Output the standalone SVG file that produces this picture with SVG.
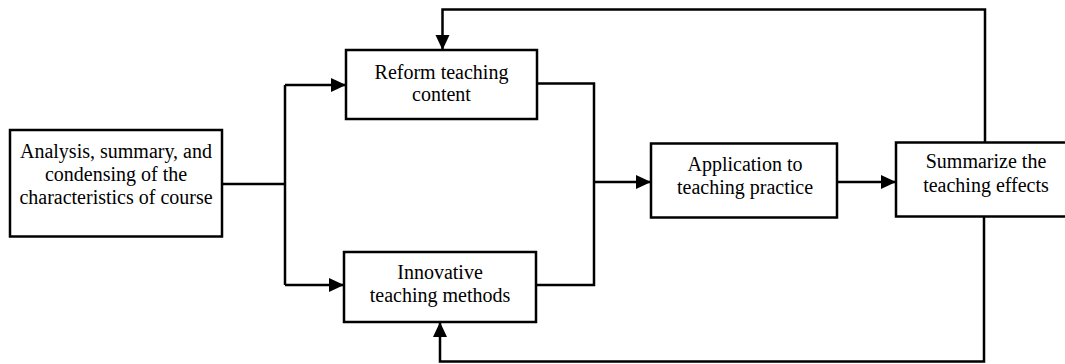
<svg xmlns="http://www.w3.org/2000/svg" width="1065" height="364" viewBox="0 0 1065 364">
<style>
.box{fill:#fff;stroke:#000;stroke-width:2.5}
.lbl{font-family:"Liberation Serif","Times New Roman",serif;font-size:20px;fill:#000;text-anchor:middle}
.c{fill:none;stroke:#000;stroke-width:2.5}
</style>
<defs>
<marker id="arr" markerUnits="userSpaceOnUse" markerWidth="15" markerHeight="14" refX="15" refY="7" orient="auto" overflow="visible">
<path d="M0,0 L15,7 L0,14 Z" fill="#000"/>
</marker>
</defs>
<rect width="1065" height="364" fill="#fff"/>
<g id="connectors">
<path class="c" d="M222,184 H285"/>
<path class="c" d="M285,85 V285"/>
<path class="c" d="M285,85 H346" marker-end="url(#arr)"/>
<path class="c" d="M285,285 H344" marker-end="url(#arr)"/>
<path class="c" d="M537,83.5 H594 V285 H536"/>
<path class="c" d="M594,182 H651" marker-end="url(#arr)"/>
<path class="c" d="M837,182 H896" marker-end="url(#arr)"/>
<path class="c" d="M985,142 V9.5 H442.5 V50" marker-end="url(#arr)"/>
<path class="c" d="M984,217 V361.5 H440 V322" marker-end="url(#arr)"/>
</g>
<g id="analysis">
<rect class="box" x="10" y="130" width="212" height="106.5"/>
<text class="lbl" x="116" y="158">Analysis, summary, and</text>
<text class="lbl" x="116" y="181">condensing of the</text>
<text class="lbl" x="116" y="204">characteristics of course</text>
</g>
<g id="reform">
<rect class="box" x="346" y="50" width="191" height="69"/>
<text class="lbl" x="441.5" y="79">Reform teaching</text>
<text class="lbl" x="441.5" y="101">content</text>
</g>
<g id="innovative">
<rect class="box" x="344" y="252" width="192" height="70"/>
<text class="lbl" x="440" y="279">Innovative</text>
<text class="lbl" x="440" y="301.5">teaching methods</text>
</g>
<g id="application">
<rect class="box" x="651" y="143.5" width="186" height="74"/>
<text class="lbl" x="745" y="170.5">Application to</text>
<text class="lbl" x="745" y="194">teaching practice</text>
</g>
<g id="summarize">
<rect class="box" x="896" y="142.5" width="185" height="74"/>
<text class="lbl" x="986" y="168">Summarize the</text>
<text class="lbl" x="986" y="192">teaching effects</text>
</g>
</svg>
